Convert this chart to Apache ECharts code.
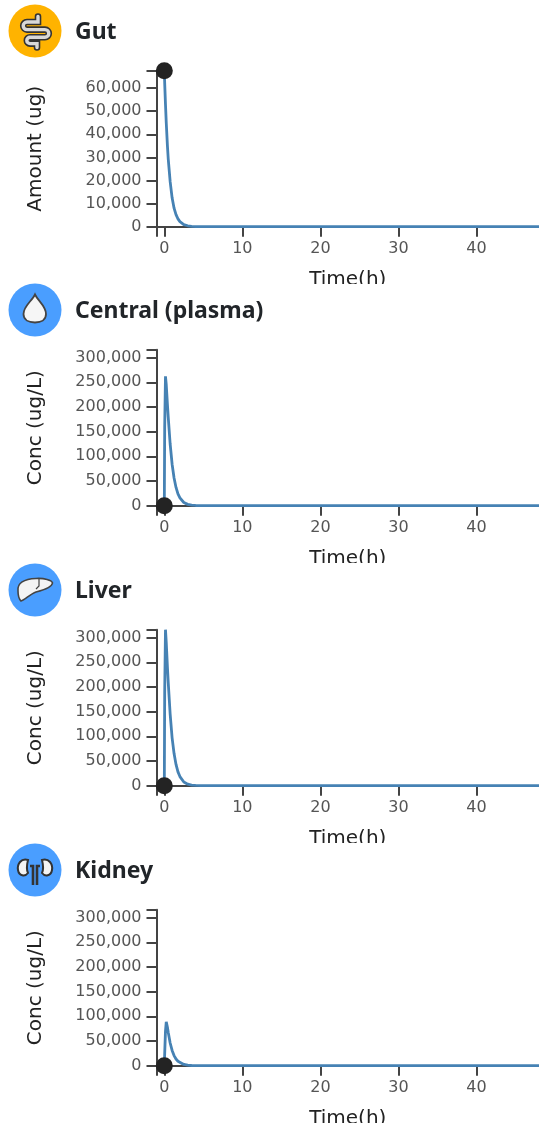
<!DOCTYPE html>
<html>
<head>
<meta charset="utf-8">
<title>PK compartments</title>
<script src="https://cdn.jsdelivr.net/npm/echarts@6/dist/echarts.min.js"></script>
<style>
    html, body { margin: 0; padding: 0; background: #fff; }
    #wrap { position: relative; width: 539px; height: 1126px; overflow: hidden; }
    .panel { position: absolute; left: 0; width: 539px; height: 284px; overflow: hidden; }
    .chart { position: absolute; left: 0; top: 0; width: 539px; height: 284px; }
    .icon { position: absolute; left: 0; top: 0; z-index: 2; }
</style>
</head>
<body>
<div id="wrap"></div>
<script>
// values
var timeH     = [0, 0.05, 0.15, 0.25, 0.4, 0.5, 0.75, 1, 1.25, 1.5, 1.75, 2, 2.5, 3, 3.5, 4, 5, 6, 8, 12, 24, 36, 48];
var gutAmt    = [67500, 62000, 53000, 45000, 35000, 29500, 19500, 12500, 8000, 5200, 3400, 2200, 900, 400, 180, 70, 10, 0, 0, 0, 0, 0, 0];
var plasma    = [0, 160000, 262000, 245000, 205000, 180000, 125000, 84000, 56000, 37000, 24000, 16000, 6500, 2700, 1100, 450, 70, 10, 0, 0, 0, 0, 0];
var liver     = [0, 190000, 316000, 290000, 240000, 210000, 145000, 97000, 65000, 43000, 28000, 18500, 7500, 3100, 1300, 520, 80, 10, 0, 0, 0, 0, 0];
var kidney    = [0, 25000, 70000, 89000, 78000, 68000, 46000, 31000, 20500, 13500, 9000, 6000, 2500, 1000, 420, 170, 30, 5, 0, 0, 0, 0, 0];

var names     = ['Gut', 'Central (plasma)', 'Liver', 'Kidney'];
var yNames    = ['Amount (ug)', 'Conc (ug/L)', 'Conc (ug/L)', 'Conc (ug/L)'];
var seriesAll = [gutAmt, plasma, liver, kidney];
var yTops     = [67500, 316000, 316000, 316000];
var yLabelsG  = [0, 10000, 20000, 30000, 40000, 50000, 60000];
var yLabelsC  = [0, 50000, 100000, 150000, 200000, 250000, 300000];
var xLabels   = [0, 10, 20, 30, 40];
var xMin = -1, xMax = 48;
var panelTops = [0, 279, 559, 839];
var iconFill  = ['#ffb300', '#4a9eff', '#4a9eff', '#4a9eff'];

var AXIS_COLOR = '#444';
var FONT = '"DejaVu Sans", sans-serif';

var gutPath = 'M38 16.5 V22 H27 A3.8 3.8 0 0 0 27 29.6 H45 A3.8 3.8 0 0 1 45 37.2 H30 A3.2 3.2 0 0 0 30 43.6 H37 V47.5';
var iconSvg = [
    // gut, a tube so dark under light
    '<path d="' + gutPath + '" fill="none" stroke="#333" stroke-width="6.6" stroke-linecap="round"/>' +
    '<path d="' + gutPath + '" fill="none" stroke="#d8d8d8" stroke-width="3.4" stroke-linecap="round"/>',
    // drop
    '<path d="M35 15.5 C32 22 23.5 27 23.5 35 C23.5 41 29 43.5 35 43.5 C41 43.5 46 41 46 35 C46 27 38 22 35 15.5 Z" fill="#f6f6f6" stroke="#444" stroke-width="1.8"/>',
    // liver
    '<path d="M18 32 C17 24 24 20 36 19.5 C44 19 52 21 52.5 24 C52 28 44 31 36 33 C30 35 25 41 21 42 C19 40 18 36 18 32 Z" fill="#f4f4f4" stroke="#444" stroke-width="1.6"/>' +
    '<path d="M39 20 L39 27 L36 30" fill="none" stroke="#444" stroke-width="1.2"/>',
    // kidneys
    '<path d="M28 21 C21 19 17 25 18 31 C19 37 25 38 28 34 C26 30 27 25 28 21 Z M42 21 C49 19 53 25 52 31 C51 37 45 38 42 34 C44 30 43 25 42 21 Z" fill="#f4f4f4" stroke="#333" stroke-width="2"/>' +
    '<path d="M30 27 H33 V46 M40 27 H37 V46" fill="none" stroke="#333" stroke-width="2.6"/>'
];

function fmt(v){
    return v.toLocaleString('en-US');
}

function buildOption(i){
    var yLabels = i == 0 ? yLabelsG : yLabelsC;
    var lineData = [];
    for(var k = 0; k < timeH.length; k++){
        lineData.push([timeH[k], seriesAll[i][k]]);
    }
    var axisLine = { show: true, onZero: false, lineStyle: { color: AXIS_COLOR, width: 2 } };
    return {
        animation: false,
        grid: { left: 156.5, top: 70.7, width: 382.5, height: 156, outerBoundsMode: 'none' },
        xAxis: {
            type: 'value',
            min: xMin,
            max: xMax,
            name: 'Time(h)',
            nameLocation: 'middle',
            nameGap: 43,
            nameTextStyle: { color: '#222', fontSize: 20, fontFamily: FONT },
            axisLine: axisLine,
            axisTick: { show: true, length: 10, customValues: [xMin].concat(xLabels), lineStyle: { color: AXIS_COLOR, width: 2 } },
            axisLabel: { show: true, customValues: xLabels, margin: 14, color: '#555', fontSize: 16, fontFamily: FONT },
            splitLine: { show: false }
        },
        yAxis: {
            type: 'value',
            min: 0,
            max: yTops[i],
            name: yNames[i],
            nameLocation: 'middle',
            nameGap: 111,
            nameTextStyle: { color: '#222', fontSize: 20, fontFamily: FONT },
            axisLine: axisLine,
            axisTick: { show: true, length: 10, customValues: yLabels.concat([yTops[i]]), lineStyle: { color: AXIS_COLOR, width: 2 } },
            axisLabel: { show: true, customValues: yLabels, margin: 15, color: '#555', fontSize: 16, fontFamily: FONT, padding: [3, 0, 0, 0], formatter: fmt },
            splitLine: { show: false }
        },
        graphic: [
            {
                type: 'text', left: 75, top: 21,
                style: { text: names[i], fill: '#212529', font: 'bold 23px "Noto Sans", sans-serif' }
            }
        ],
        series: [
            {
                type: 'line',
                data: lineData,
                showSymbol: false,
                lineStyle: { color: '#4682b4', width: 2.8 },
                z: 2
            },
            {
                type: 'scatter',
                data: [[timeH[0], seriesAll[i][0]]],
                symbolSize: 17,
                clip: false,
                itemStyle: { color: 'rgb(35,35,35)', opacity: 1 },
                z: 3
            }
        ]
    };
}

var wrap = document.getElementById('wrap');
for(var i = 0; i < names.length; i++){
    var box = document.createElement('div');
    box.className = 'panel';
    box.style.top = panelTops[i] + 'px';
    box.innerHTML = '<div class="chart"></div>' +
        '<svg class="icon" width="70" height="62"><circle cx="35" cy="31" r="26.5" fill="' + iconFill[i] + '"/>' + iconSvg[i] + '</svg>';
    wrap.appendChild(box);
    echarts.init(box.querySelector('.chart')).setOption(buildOption(i));
}
</script>
</body>
</html>
